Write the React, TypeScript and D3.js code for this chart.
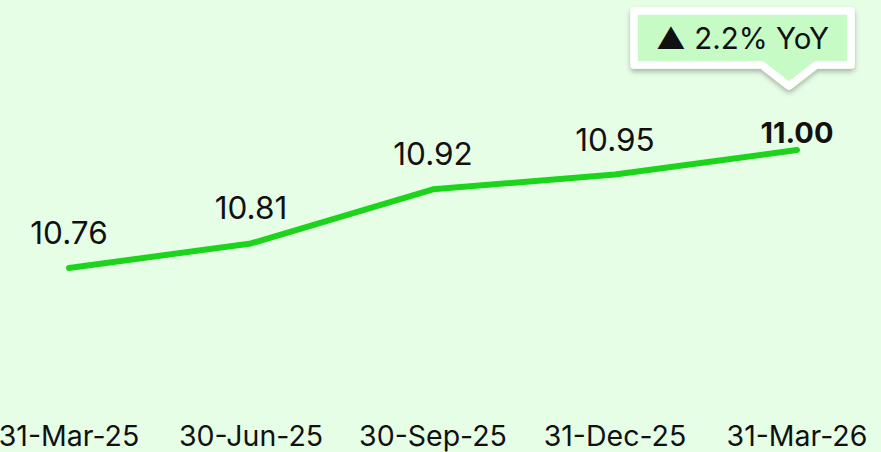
import React from "react"
import * as d3 from "d3"

const WIDTH = 881
const HEIGHT = 452

const categories = ["31-Mar-25", "30-Jun-25", "30-Sep-25", "31-Dec-25", "31-Mar-26"]
const values = [10.76, 10.81, 10.92, 10.95, 11.0]
const valueLabels = ["10.76", "10.81", "10.92", "10.95", "11.00"]
const calloutText = "▲ 2.2% YoY"

const BG = "#e6fee6"
const LINE_COLOR = "#1dd41d"
const CALLOUT_FILL = "#c6fbc6"
const FONT = "Inter, 'Noto Sans', sans-serif"

const App = () => {
	const xScale = d3.scalePoint<string>().domain(categories).range([69, 797])
	const yScale = d3.scaleLinear().domain([10.76, 11.0]).range([268, 150])

	const line = d3
		.line<number>()
		.x((_, i) => xScale(categories[i]) as number)
		.y((d) => yScale(d))

	const last = values.length - 1
	const lastX = xScale(categories[last]) as number
	const lastY = yScale(values[last])

	// callout box sits above the last point, shifted left so it fits
	const tipX = lastX - 8
	const tipY = lastY - 64
	const boxL = tipX - 155
	const boxR = tipX + 62
	const boxT = tipY - 75
	const boxB = tipY - 21
	const calloutPath =
		`M${boxL},${boxT} H${boxR} V${boxB} H${tipX + 27} L${tipX},${tipY} ` +
		`L${tipX - 27},${boxB} H${boxL} Z`

	return (
		<div style={{ position: "absolute", left: 0, top: 0 }}>
			<svg width={WIDTH} height={HEIGHT} style={{ display: "block", background: BG }}>
				<defs>
					<filter id="callout-shadow" x="-20%" y="-30%" width="140%" height="180%">
						<feDropShadow dx="0" dy="3" stdDeviation="2.5" floodColor="#000" floodOpacity="0.28" />
					</filter>
				</defs>
				<rect width={WIDTH} height={HEIGHT} fill={BG} />

				<path
					d={line(values) || ""}
					fill="none"
					stroke={LINE_COLOR}
					strokeWidth={6}
					strokeLinecap="round"
					strokeLinejoin="round"
				/>

				{values.map((v, i) => {
					const isLast = i === last
					return (
						<text
							key={categories[i]}
							x={xScale(categories[i])}
							y={isLast ? yScale(v) - 7 : yScale(v) - 24}
							textAnchor="middle"
							fontFamily={FONT}
							fontSize={isLast ? 29 : 31.5}
							fontWeight={isLast ? 700 : 400}
							fill="#111"
						>
							{valueLabels[i]}
						</text>
					)
				})}

				{categories.map((c) => (
					<text
						key={c}
						x={xScale(c)}
						y={446}
						textAnchor="middle"
						fontFamily={FONT}
						fontSize={28.5}
						fill="#111"
					>
						{c}
					</text>
				))}

				<path
					d={calloutPath}
					fill={CALLOUT_FILL}
					stroke="#fff"
					strokeWidth={7.5}
					strokeLinejoin="round"
					filter="url(#callout-shadow)"
				/>
				<text
					x={(boxL + boxR) / 2}
					y={boxT + 38}
					textAnchor="middle"
					fontFamily={FONT}
					fontSize={29.5}
					fill="#111"
				>
					{calloutText}
				</text>
			</svg>
		</div>
	)
}

export default App
